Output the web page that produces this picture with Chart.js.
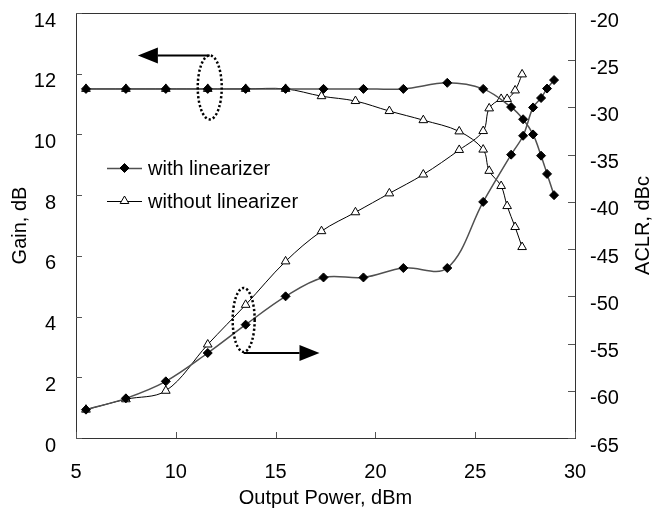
<!DOCTYPE html>
<html><head><meta charset="utf-8">
<script src="https://cdn.jsdelivr.net/npm/chart.js@4"></script>
<style>html,body{margin:0;padding:0;background:#fff}#wrap{width:658px;height:511px}</style>
</head><body><div id="wrap"><canvas id="c" width="658" height="511"></canvas></div>
<script>
// ---- data ----
const xWith      = [5.5, 7.5, 9.5, 11.6, 13.5, 15.5, 17.4, 19.4, 21.4, 23.6, 25.4, 26.8, 27.4, 27.9, 28.3, 28.6, 28.95];
const gainWith   = [11.5, 11.5, 11.5, 11.5, 11.5, 11.5, 11.5, 11.5, 11.5, 11.7, 11.5, 10.9, 10.5, 10.0, 9.3, 8.7, 8.0];
const aclrWith   = [-62, -60.8, -59, -56, -53, -50, -48, -48, -47, -47, -40, -35, -33, -30, -29, -28, -27.1];
const xWithout   = [5.5, 7.5, 9.5, 11.6, 13.5, 15.5, 17.3, 19.0, 20.7, 22.4, 24.2, 25.4, 25.7, 26.3, 26.6, 27.0, 27.35];
const gainWithout= [11.5, 11.5, 11.5, 11.5, 11.5, 11.5, 11.26, 11.1, 10.77, 10.47, 10.1, 9.5, 8.8, 8.3, 7.64, 6.95, 6.29];
const aclrWithout= [-62, -60.9, -60.0, -55.1, -50.9, -46.3, -43.1, -41.1, -39.1, -37.1, -34.5, -32.5, -30.1, -29.1, -29.1, -28.2, -26.5];
const seriesNames = ['with linearizer', 'without linearizer'];
const xTitle = 'Output Power, dBm';
const yTitle = 'Gain, dB';
const y1Title = 'ACLR, dBc';
const xRange = [5, 30, 5];
const yRange = [0, 14, 2];
const y1Range = [-65, -20, 5];

const pts = (xs, ys) => xs.map((x, i) => ({x: x, y: ys[i]}));
const FONT = "'Liberation Sans', Arial, Helvetica, sans-serif";
Chart.defaults.font.family = FONT;
Chart.defaults.font.size = 20;
Chart.defaults.color = '#000';

const withStyle = {borderColor: '#505050', borderWidth: 1.5, pointStyle: 'rectRot', pointRadius: 4.5,
  pointBackgroundColor: '#000', pointBorderColor: '#000', pointBorderWidth: 1, tension: 0.35, fill: false};
const withoutStyle = {borderColor: '#000', borderWidth: 1, pointStyle: 'triangle', pointRadius: 5,
  pointBackgroundColor: '#fff', pointBorderColor: '#000', pointBorderWidth: 1, tension: 0.35, fill: false};

const decor = {
  id: 'decor',
  afterDraw(chart) {
    const ctx = chart.ctx, a = chart.chartArea;
    const xs = chart.scales.x, ys = chart.scales.y, y1 = chart.scales.y1;
    ctx.save();
    // frame top border
    ctx.strokeStyle = '#333'; ctx.lineWidth = 1;
    ctx.beginPath(); ctx.moveTo(a.left, a.top + 0.5); ctx.lineTo(a.right, a.top + 0.5); ctx.stroke();
    // inward tick marks
    ctx.strokeStyle = '#555';
    ys.ticks.forEach(t => { const p = Math.round(ys.getPixelForValue(t.value)) + 0.5;
      ctx.beginPath(); ctx.moveTo(a.left, p); ctx.lineTo(a.left + 6, p); ctx.stroke(); });
    y1.ticks.forEach(t => { const p = Math.round(y1.getPixelForValue(t.value)) + 0.5;
      ctx.beginPath(); ctx.moveTo(a.right, p); ctx.lineTo(a.right - 7, p); ctx.stroke(); });
    xs.ticks.forEach(t => { const p = Math.round(xs.getPixelForValue(t.value)) + 0.5;
      ctx.beginPath(); ctx.moveTo(p, a.bottom); ctx.lineTo(p, a.bottom - 6); ctx.stroke(); });

    // dotted ellipses + arrows
    const ell = (cx, cy, rx, ry) => {
      ctx.save(); ctx.strokeStyle = '#000'; ctx.lineWidth = 2.5; ctx.setLineDash([2.2, 2.2]);
      ctx.beginPath(); ctx.ellipse(cx, cy, rx, ry, 0, 0, Math.PI * 2); ctx.stroke(); ctx.restore();
    };
    const arrow = (x0, y, x1) => {
      const dir = Math.sign(x1 - x0), hl = 20, hw = 8;
      ctx.strokeStyle = '#000'; ctx.lineWidth = 2; ctx.setLineDash([]);
      ctx.beginPath(); ctx.moveTo(x0, y); ctx.lineTo(x1 - dir * hl, y); ctx.stroke();
      ctx.fillStyle = '#000'; ctx.beginPath();
      ctx.moveTo(x1, y); ctx.lineTo(x1 - dir * hl, y - hw); ctx.lineTo(x1 - dir * hl, y + hw); ctx.closePath(); ctx.fill();
    };
    const e1x = xs.getPixelForValue(11.7), e1y = ys.getPixelForValue(11.55);
    ell(e1x, e1y, 12, 32);
    arrow(e1x, e1y - 32, xs.getPixelForValue(8.1));
    const e2x = xs.getPixelForValue(13.4), e2y = y1.getPixelForValue(-52.5);
    ell(e2x, e2y, 11, 32);
    arrow(e2x, e2y + 33, xs.getPixelForValue(17.2));

    // legend
    const rows = [{y: 168, st: withStyle, name: seriesNames[0]}, {y: 201, st: withoutStyle, name: seriesNames[1]}];
    rows.forEach(r => {
      ctx.strokeStyle = r.st.borderColor; ctx.lineWidth = r.st.borderWidth;
      ctx.beginPath(); ctx.moveTo(107, r.y + 0.5); ctx.lineTo(142, r.y + 0.5); ctx.stroke();
      ctx.fillStyle = r.st.pointBackgroundColor; ctx.strokeStyle = r.st.pointBorderColor; ctx.lineWidth = 1;
      Chart.helpers.drawPoint(ctx, {pointStyle: r.st.pointStyle, radius: r.st.pointRadius, borderWidth: 1}, 124.5, r.y);
      ctx.fillStyle = '#000'; ctx.font = '20px ' + FONT; ctx.textAlign = 'left'; ctx.textBaseline = 'middle';
      ctx.fillText(r.name, 148, r.y + 1);
    });

    // right axis title (reads bottom to top)
    ctx.save();
    ctx.translate(643, (a.top + a.bottom) / 2);
    ctx.rotate(-Math.PI / 2);
    ctx.font = '20px ' + FONT; ctx.fillStyle = '#000'; ctx.textAlign = 'center'; ctx.textBaseline = 'middle';
    ctx.fillText(y1Title, 0, 0);
    ctx.restore();
    ctx.restore();
  }
};

const fixV = w => s => { s.width = w; s.paddingTop = 0; s.paddingBottom = 0; };

new Chart(document.getElementById('c'), {
  type: 'line',
  data: {
    datasets: [
      Object.assign({label: seriesNames[0] + ' gain', data: pts(xWith, gainWith), yAxisID: 'y'}, withStyle),
      Object.assign({label: seriesNames[0] + ' ACLR', data: pts(xWith, aclrWith), yAxisID: 'y1'}, withStyle),
      Object.assign({label: seriesNames[1] + ' gain', data: pts(xWithout, gainWithout), yAxisID: 'y'}, withoutStyle),
      Object.assign({label: seriesNames[1] + ' ACLR', data: pts(xWithout, aclrWithout), yAxisID: 'y1'}, withoutStyle)
    ]
  },
  options: {
    responsive: false, animation: false, devicePixelRatio: 1,
    layout: {padding: {top: 13, left: 0, right: 0, bottom: 0}},
    plugins: {legend: {display: false}, tooltip: {enabled: false}},
    scales: {
      x: {type: 'linear', position: 'bottom', min: xRange[0], max: xRange[1],
        ticks: {stepSize: xRange[2], padding: 22, font: {size: 20}, color: '#000', maxRotation: 0},
        grid: {display: false, drawTicks: false},
        border: {display: true, color: '#333', width: 1},
        title: {display: true, text: xTitle, font: {size: 20}, color: '#000', padding: {top: 0, bottom: 1}},
        afterFit(s) { s.height = 73; s.paddingLeft = 0; s.paddingRight = 0; }
      },
      y: {type: 'linear', position: 'left', min: yRange[0], max: yRange[1],
        ticks: {stepSize: yRange[2], padding: 20, labelOffset: 8, font: {size: 20}, color: '#000'},
        grid: {display: false, drawTicks: false},
        border: {display: true, color: '#333', width: 1},
        title: {display: true, text: yTitle, font: {size: 20}, color: '#000', padding: {top: 8, bottom: 0}},
        afterFit: fixV(76)
      },
      y1: {type: 'linear', position: 'right', min: y1Range[0], max: y1Range[1],
        ticks: {stepSize: y1Range[2], padding: 15, labelOffset: 8, font: {size: 20}, color: '#000'},
        grid: {display: false, drawTicks: false},
        border: {display: true, color: '#333', width: 1},
        afterFit: fixV(83)
      }
    }
  },
  plugins: [decor]
});
</script>
</body></html>
